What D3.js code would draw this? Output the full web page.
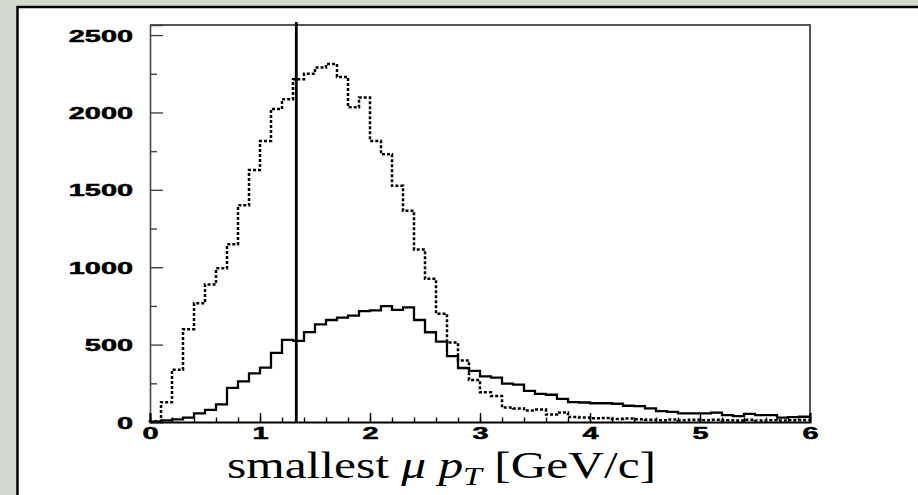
<!DOCTYPE html>
<html>
<head>
<meta charset="utf-8">
<script src="https://cdn.jsdelivr.net/npm/d3@7/dist/d3.min.js"></script>
<style>
  html, body { margin: 0; padding: 0; background: #d3d9cd; }
  svg { display: block; }
</style>
</head>
<body>
<svg id="chart" width="918" height="495"></svg>
<script>
// Histogram binning: 60 bins of 0.1 GeV/c between 0 and 6
const binWidth = 0.1;
const nBins = 60;
const binLow = d3.range(nBins).map(i => +(i * binWidth).toFixed(1));

// Entries per bin, dashed histogram
const dashedCounts = [
  5, 128, 338, 600, 767, 888, 993, 1148, 1400, 1628,
  1816, 2022, 2086, 2214, 2250, 2290, 2313, 2229, 2033, 2097,
  1816, 1730, 1526, 1365, 1115, 925, 700, 513, 398, 271,
  192, 168, 94, 88, 75, 80, 48, 62, 32, 29,
  24, 26, 20, 22, 18, 15, 12, 16, 12, 14,
  12, 14, 11, 10, 15, 10, 12, 9, 12, 13
];

// Entries per bin, solid histogram
const solidCounts = [
  3, 10, 17, 28, 56, 78, 114, 220, 263, 314,
  351, 446, 530, 524, 581, 631, 659, 674, 687, 717,
  721, 749, 725, 740, 659, 580, 519, 425, 349, 330,
  295, 287, 248, 241, 201, 182, 176, 149, 128, 126,
  121, 121, 118, 105, 103, 88, 70, 65, 56, 56,
  56, 60, 45, 38, 52, 45, 44, 28, 32, 34
];

// Cut position on the smallest muon pT
const cutValue = 1.33;

// Axis ranges and ticks
const xDomain = [0, 6];
const yDomain = [0, 2565];
const xMajorTicks = [0, 1, 2, 3, 4, 5, 6];
const xMinorTicks = d3.range(0, 6.001, 0.2).map(v => +v.toFixed(1));
const yMajorTicks = [0, 500, 1000, 1500, 2000, 2500];
const yMinorTicks = [250, 750, 1250, 1750, 2250];
const xTitleParts = ["smallest ", "\u03BC", " ", "p", "T", " [GeV/c]"];

const svg = d3.select("#chart");

// White page panel with its black border
svg.append("rect")
  .attr("x", 17.5).attr("y", 7)
  .attr("width", 918).attr("height", 500)
  .attr("fill", "#ffffff")
  .attr("stroke", "#000").attr("stroke-width", 2.5);

const frame = { left: 150, right: 810, top: 25, bottom: 422 };

const x = d3.scaleLinear().domain(xDomain).range([frame.left, frame.right]);
const y = d3.scaleLinear().domain(yDomain).range([frame.bottom, frame.top]);

// Frame (top and right sides drawn in grey)
svg.append("path")
  .attr("d", `M${x(0)},${y(yDomain[1])}H${x(6)}V${y(0)}`)
  .attr("fill", "none").attr("stroke", "#555").attr("stroke-width", 2);

// Tick label styling: wide, heavy sans digits
const labelStretch = 1.7;
function styleLabels(sel) {
  sel.attr("transform", `scale(${labelStretch},1)`)
    .style("font-family", "'Liberation Sans', Arial, sans-serif")
    .style("font-weight", "bold")
    .style("font-size", "17px")
    .attr("fill", "#000")
    .attr("stroke", "#000")
    .attr("stroke-width", 0.5);
}

// Left axis
const yAxis = svg.append("g")
  .attr("transform", `translate(${x(0)},0)`)
  .call(d3.axisRight(y).tickValues(yMajorTicks).tickSize(13).tickFormat(d3.format("d")));
yAxis.select(".domain").attr("stroke", "#444").attr("stroke-width", 1.6);
yAxis.selectAll(".tick line").attr("stroke", "#444").attr("stroke-width", 1.4);
yAxis.selectAll(".tick text")
  .attr("text-anchor", "end")
  .attr("x", -17 / labelStretch)
  .attr("dy", "0.36em")
  .call(styleLabels);

const yMinor = svg.append("g")
  .attr("transform", `translate(${x(0)},0)`)
  .call(d3.axisRight(y).tickValues(yMinorTicks).tickSize(7).tickFormat(""));
yMinor.select(".domain").remove();
yMinor.selectAll(".tick line").attr("stroke", "#444").attr("stroke-width", 1.4);

// Bottom axis
const xAxis = svg.append("g")
  .attr("transform", `translate(0,${y(0)})`)
  .call(d3.axisTop(x).tickValues(xMajorTicks).tickSize(9).tickFormat(d3.format("d")));
xAxis.select(".domain").attr("stroke", "#000").attr("stroke-width", 2);
xAxis.selectAll(".tick line").attr("stroke", "#000").attr("stroke-width", 1.4);
xAxis.selectAll(".tick text")
  .attr("y", 5)
  .attr("dy", "0.72em")
  .attr("text-anchor", "middle")
  .call(styleLabels);

const xMinor = svg.append("g")
  .attr("transform", `translate(0,${y(0)})`)
  .call(d3.axisTop(x).tickValues(xMinorTicks).tickSize(4.5).tickFormat(""));
xMinor.select(".domain").remove();
xMinor.selectAll(".tick line").attr("stroke", "#000").attr("stroke-width", 1.4);

// Step outline of a histogram, starting on the baseline
function stepPath(counts) {
  const pts = [[x(binLow[0]), y(0)]];
  counts.forEach((c, i) => {
    pts.push([x(binLow[i]), y(c)]);
    pts.push([x(binLow[i] + binWidth), y(c)]);
  });
  return d3.line()(pts);
}

svg.append("path")
  .attr("d", stepPath(dashedCounts))
  .attr("fill", "none")
  .attr("stroke", "#000")
  .attr("stroke-width", 2.5)
  .attr("stroke-dasharray", "3,2");

svg.append("path")
  .attr("d", stepPath(solidCounts))
  .attr("fill", "none")
  .attr("stroke", "#000")
  .attr("stroke-width", 2.3);

// Vertical cut line
svg.append("line")
  .attr("x1", x(cutValue)).attr("x2", x(cutValue))
  .attr("y1", frame.top - 3).attr("y2", y(0) + 1)
  .attr("stroke", "#000").attr("stroke-width", 2.8);

// X-axis title
const titleStretch = 1.3;
const title = svg.append("text")
  .attr("transform", `translate(227,478) scale(${titleStretch},1)`)
  .style("font-family", "'Liberation Serif', 'Times New Roman', serif")
  .style("font-size", "38px")
  .attr("fill", "#000");
title.append("tspan").text(xTitleParts[0]);
title.append("tspan").style("font-style", "italic").text(xTitleParts[1]);
title.append("tspan").text(xTitleParts[2]);
title.append("tspan").style("font-style", "italic").text(xTitleParts[3]);
title.append("tspan").style("font-style", "italic").style("font-size", "26px").attr("dy", 7).text(xTitleParts[4]);
title.append("tspan").attr("dy", -7).text(xTitleParts[5]);
</script>
</body>
</html>
